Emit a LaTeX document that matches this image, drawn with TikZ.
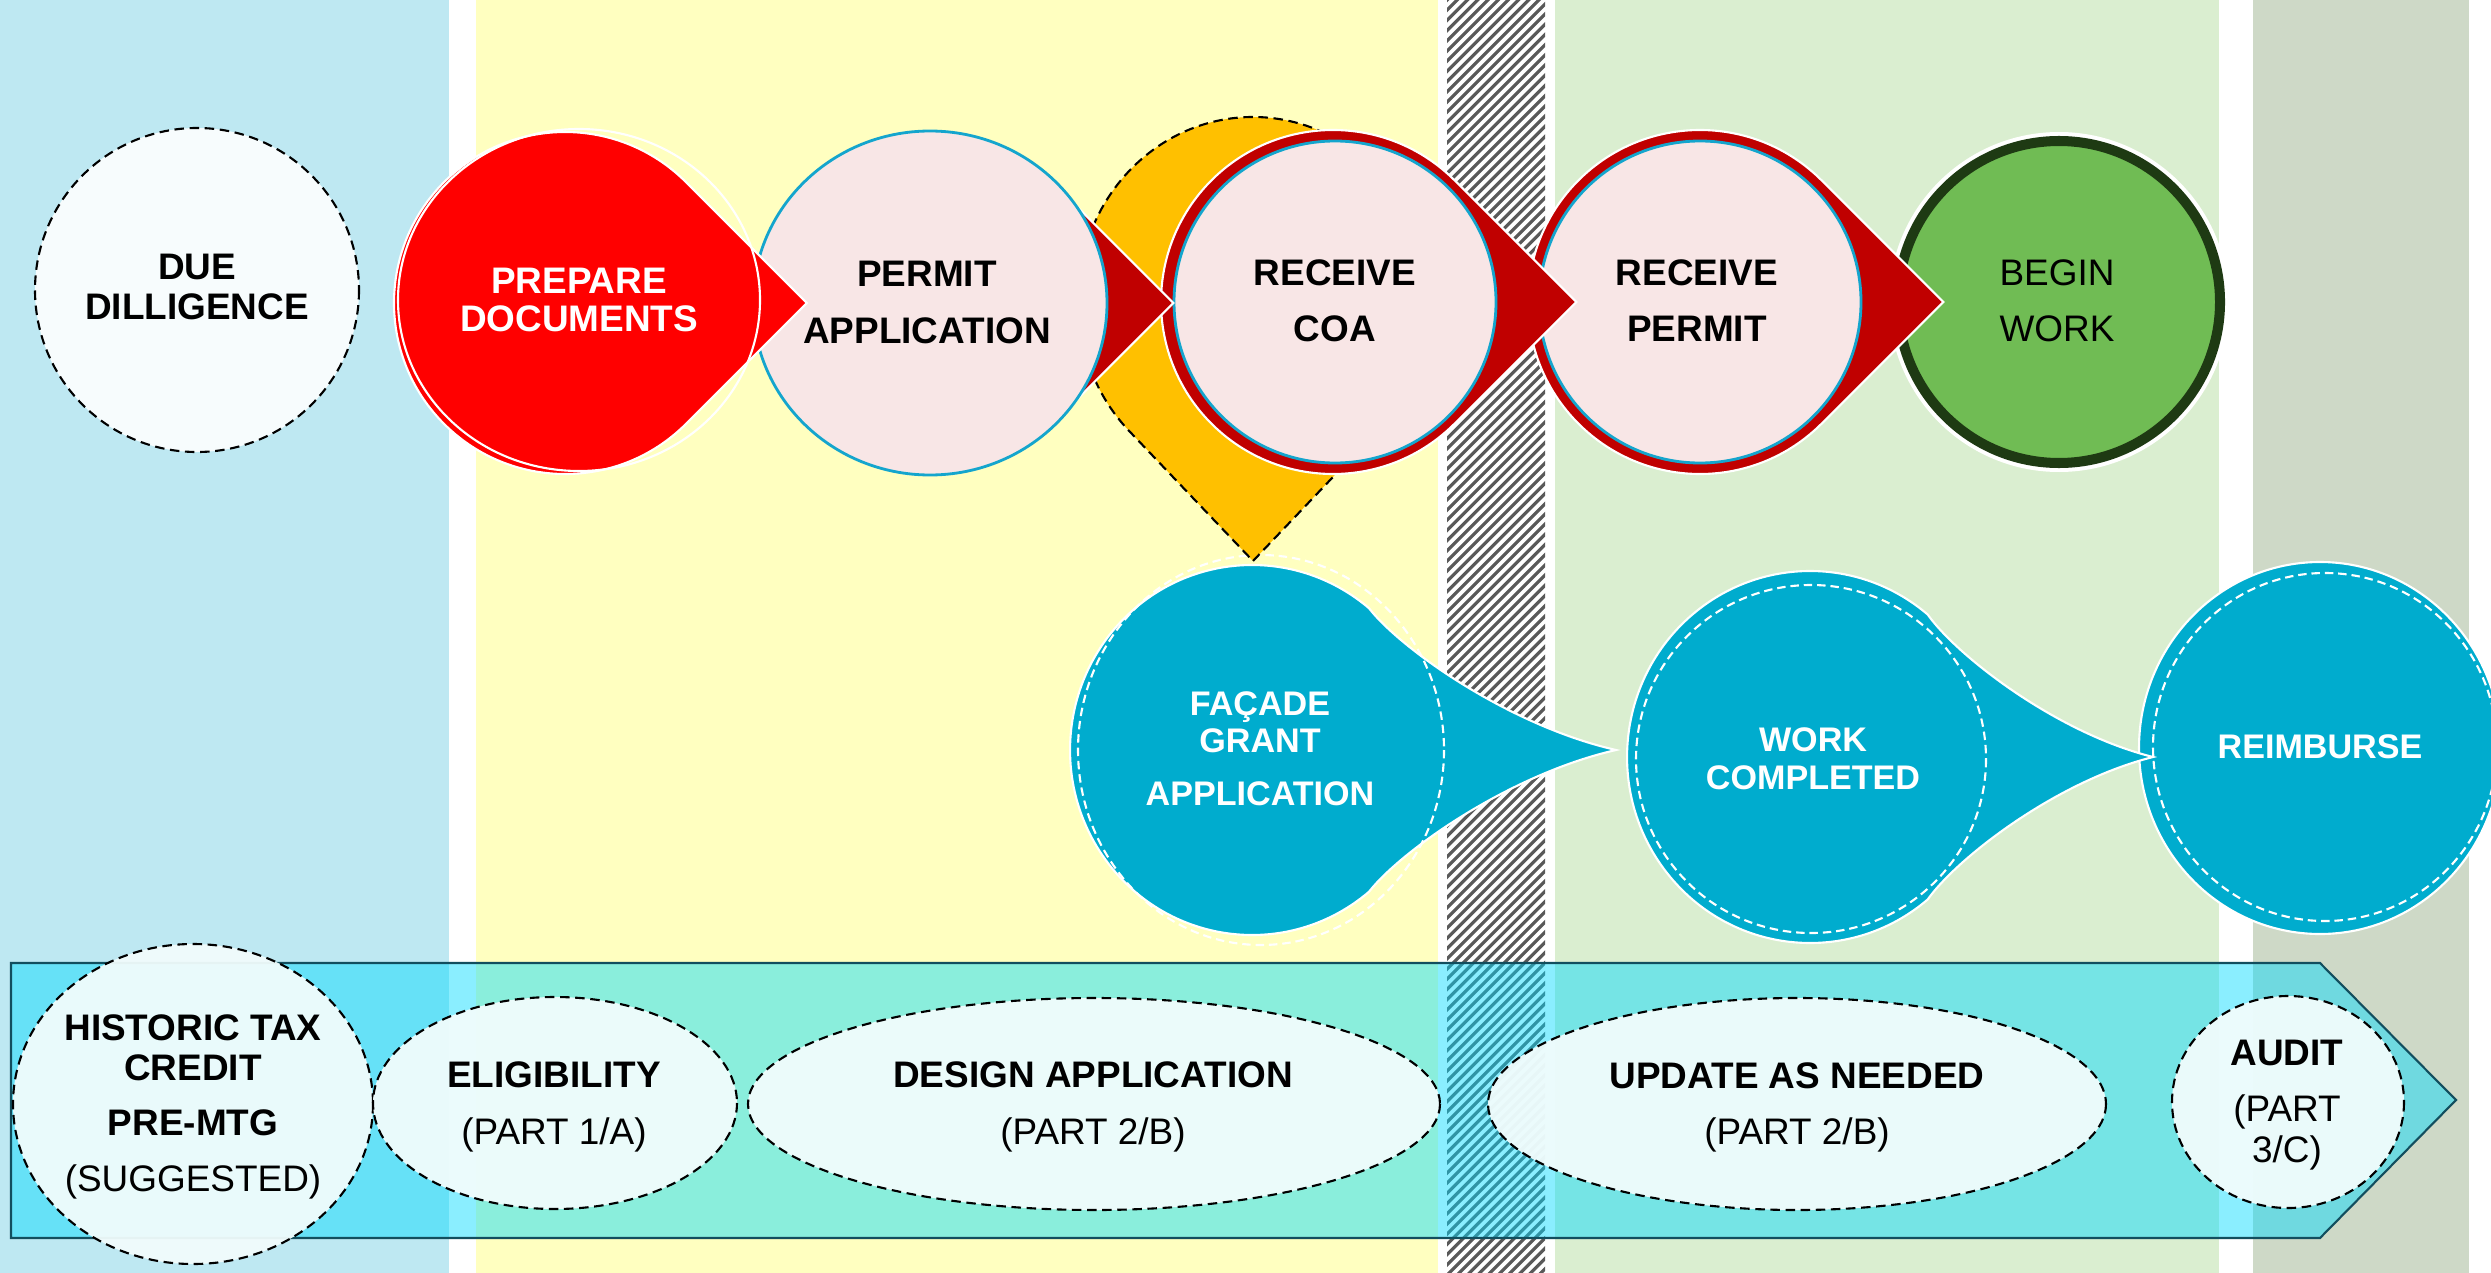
\documentclass[tikz,border=0pt]{standalone}
\usepackage{fontspec}
\setmainfont{Liberation Sans}
\usetikzlibrary{calc}
\definecolor{colblue}{RGB}{190,232,242}
\definecolor{colyellow}{RGB}{255,255,192}
\definecolor{colgreen}{RGB}{218,238,208}
\definecolor{colgrey}{RGB}{206,217,199}
\definecolor{hatchgrey}{RGB}{89,89,89}
\definecolor{pinkfill}{RGB}{248,230,230}
\definecolor{cyanline}{RGB}{20,165,205}
\definecolor{darkred}{RGB}{192,0,0}
\definecolor{brightred}{RGB}{255,0,0}
\definecolor{amber}{RGB}{255,192,0}
\definecolor{leaf}{RGB}{112,188,84}
\definecolor{leafdark}{RGB}{30,58,19}
\definecolor{tealblue}{RGB}{0,172,206}
\definecolor{arrowcyan}{RGB}{0,218,255}
\definecolor{arrowedge}{RGB}{18,78,94}
\definecolor{palefill}{RGB}{241,252,252}
\definecolor{duefill}{RGB}{247,252,253}
% teardrop pointing right: style, cx, cy, r
\newcommand\tdrop[4]{%
  \path[#1] ({#2+1.41421*#4},#3) -- ({#2+0.70711*#4},{#3+0.70711*#4})
    arc[start angle=45,end angle=315,radius=#4] -- cycle;}
% blue drop with concave point: cx, cy, rx, ry, tipx
\newcommand\bluedrop[5]{%
  \path[fill=tealblue, draw=white, line width=0.6pt]
    ({#1+0.643*#3},{#2-0.766*#4})
    .. controls ({#1+0.643*#3+0.13*(#5-#1-0.643*#3)},{#2-0.766*#4+0.29*0.766*#4})
       and ({#1+0.643*#3+0.57*(#5-#1-0.643*#3)},{#2-0.766*#4+0.83*0.766*#4}) .. (#5,#2)
    .. controls ({#1+0.643*#3+0.57*(#5-#1-0.643*#3)},{#2+0.766*#4-0.83*0.766*#4})
       and ({#1+0.643*#3+0.13*(#5-#1-0.643*#3)},{#2+0.766*#4-0.29*0.766*#4}) .. ({#1+0.643*#3},{#2+0.766*#4})
    arc[start angle=50,end angle=310,x radius=#3,y radius=#4] -- cycle;}
\begin{document}
\begin{tikzpicture}[x=0.01cm,y=-0.01cm,
  bl/.style={anchor=base, inner sep=0pt, font=\fontsize{10.5}{12}\selectfont\bfseries},
  rg/.style={anchor=base, inner sep=0pt, font=\fontsize{10.5}{12}\selectfont},
  bw/.style={anchor=base, inner sep=0pt, text=white, font=\fontsize{10.5}{12}\selectfont\bfseries},
  wt/.style={anchor=base, inner sep=0pt, text=white, font=\fontsize{9.7}{11}\selectfont\bfseries},
  blackdash/.style={draw=black, line width=0.6pt, dash pattern=on 2.7pt off 1.6pt},
  whitedash/.style={draw=white, line width=0.6pt, dash pattern=on 2.4pt off 1.4pt},
  pinkdisc/.style={fill=pinkfill, draw=cyanline, line width=0.8pt},
  redtear/.style={fill=darkred, draw=white, line width=0.6pt},
  lowell/.style={fill=palefill, fill opacity=0.95, blackdash}]
\useasboundingbox (0,0) rectangle (2491,1273);
\fill[white] (0,0) rectangle (2491,1273);
% columns
\fill[colblue] (0,0) rectangle (449,1273);
\fill[colyellow] (476,0) rectangle (1438,1273);
\fill[colgreen] (1555,0) rectangle (2219,1273);
\fill[colgrey] (2253,0) rectangle (2469,1273);
\begin{scope}
  \clip (1447,0) rectangle (1545,1273);
  \foreach \k in {0,...,140} {
    \draw[hatchgrey, line width=0.9pt] ({1447+\k*10.2-1300},1300) -- ++(1400,-1400);
  }
\end{scope}
% blue drops
\path[fill=tealblue, draw=white, line width=0.6pt] (2320,748) ellipse[x radius=181, y radius=186];
\path[whitedash] (2325,747) ellipse[x radius=172, y radius=174];
\bluedrop{1810}{757}{183}{186}{2153}
\path[whitedash] (1811,759) ellipse[x radius=175, y radius=174];
\bluedrop{1252}{750}{182}{185}{1616}
\path[whitedash] (1261,750) ellipse[x radius=183, y radius=195];
% due diligence
\path[fill=duefill, blackdash] (197,290) circle[radius=162];
% orange drop
\path[fill=amber, blackdash] (1253,561) -- (1376.6,431.2)
  arc[start angle=45.05,end angle=-225.05,x radius=175,y radius=184] -- cycle;
% begin work
\path[fill=white] (2059,302) circle[radius=170];
\path[fill=leaf, draw=leafdark, line width=2.85pt] (2059,302) circle[radius=161];
% receive permit
\tdrop{redtear}{1700}{302}{172}
\path[pinkdisc] (1700,302) circle[radius=161];
% receive coa
\tdrop{redtear}{1333}{302}{172}
\path[pinkdisc] (1335,302) circle[radius=161];
% permit application
\tdrop{redtear}{930}{303}{172}
\path[pinkdisc] (930,303) ellipse[x radius=177, y radius=172];
% prepare documents
\tdrop{fill=brightred, draw=white, line width=0.6pt}{565}{303}{171}
\path[draw=white, line width=0.6pt] (579,300) ellipse[x radius=181, y radius=171];
% bottom arrow
\path[fill=arrowcyan, fill opacity=0.46, draw=arrowedge, line width=0.6pt]
  (11,963) -- (2320,963) -- (2456,1100) -- (2320,1238) -- (11,1238) -- cycle;
\path[lowell] (193,1104) ellipse[x radius=180, y radius=160];
\path[lowell] (555,1103) ellipse[x radius=182, y radius=106];
\path[lowell] (1094,1104) ellipse[x radius=346, y radius=106];
\path[lowell] (1797,1104) ellipse[x radius=309, y radius=106];
\path[lowell] (2288,1102) ellipse[x radius=116, y radius=106];
% texts
\node[bl] (due1) at (197,279) {DUE};
\node[bl] (due2) at (197,319) {DILLIGENCE};
\node[bw] (prep1) at (579,293) {PREPARE};
\node[bw] (prep2) at (579,331) {DOCUMENTS};
\node[bl] (perm1) at (927,286) {PERMIT};
\node[bl] (perm2) at (927,343) {APPLICATION};
\node[bl] (coa1) at (1335,285) {RECEIVE};
\node[bl] (coa2) at (1335,341) {COA};
\node[bl] (rp1) at (1697,285) {RECEIVE};
\node[bl] (rp2) at (1697,341) {PERMIT};
\node[rg] (bw1) at (2057,285) {BEGIN};
\node[rg] (bw2) at (2057,341) {WORK};
\node[wt] (fac1) at (1260,715) {FAÇADE};
\node[wt] (fac2) at (1260,752) {GRANT};
\node[wt] (fac3) at (1260,805) {APPLICATION};
\node[wt] (wc1) at (1813,751) {WORK};
\node[wt] (wc2) at (1813,789) {COMPLETED};
\node[wt] (reim) at (2320,758) {REIMBURSE};
\node[bl] (htc1) at (193,1040) {HISTORIC TAX};
\node[bl] (htc2) at (193,1080) {CREDIT};
\node[bl] (htc3) at (193,1135) {PRE-MTG};
\node[rg] (htc4) at (193,1191) {(SUGGESTED)};
\node[bl] (eli1) at (554,1087) {ELIGIBILITY};
\node[rg] (eli2) at (554,1144) {(PART 1/A)};
\node[bl] (des1) at (1093,1087) {DESIGN APPLICATION};
\node[rg] (des2) at (1093,1144) {(PART 2/B)};
\node[bl] (upd1) at (1797,1088) {UPDATE AS NEEDED};
\node[rg] (upd2) at (1797,1144) {(PART 2/B)};
\node[bl] (aud1) at (2287,1065) {AUDIT};
\node[rg] (aud2) at (2287,1121) {(PART};
\node[rg] (aud3) at (2287,1162) {3/C)};
\end{tikzpicture}
\end{document}
